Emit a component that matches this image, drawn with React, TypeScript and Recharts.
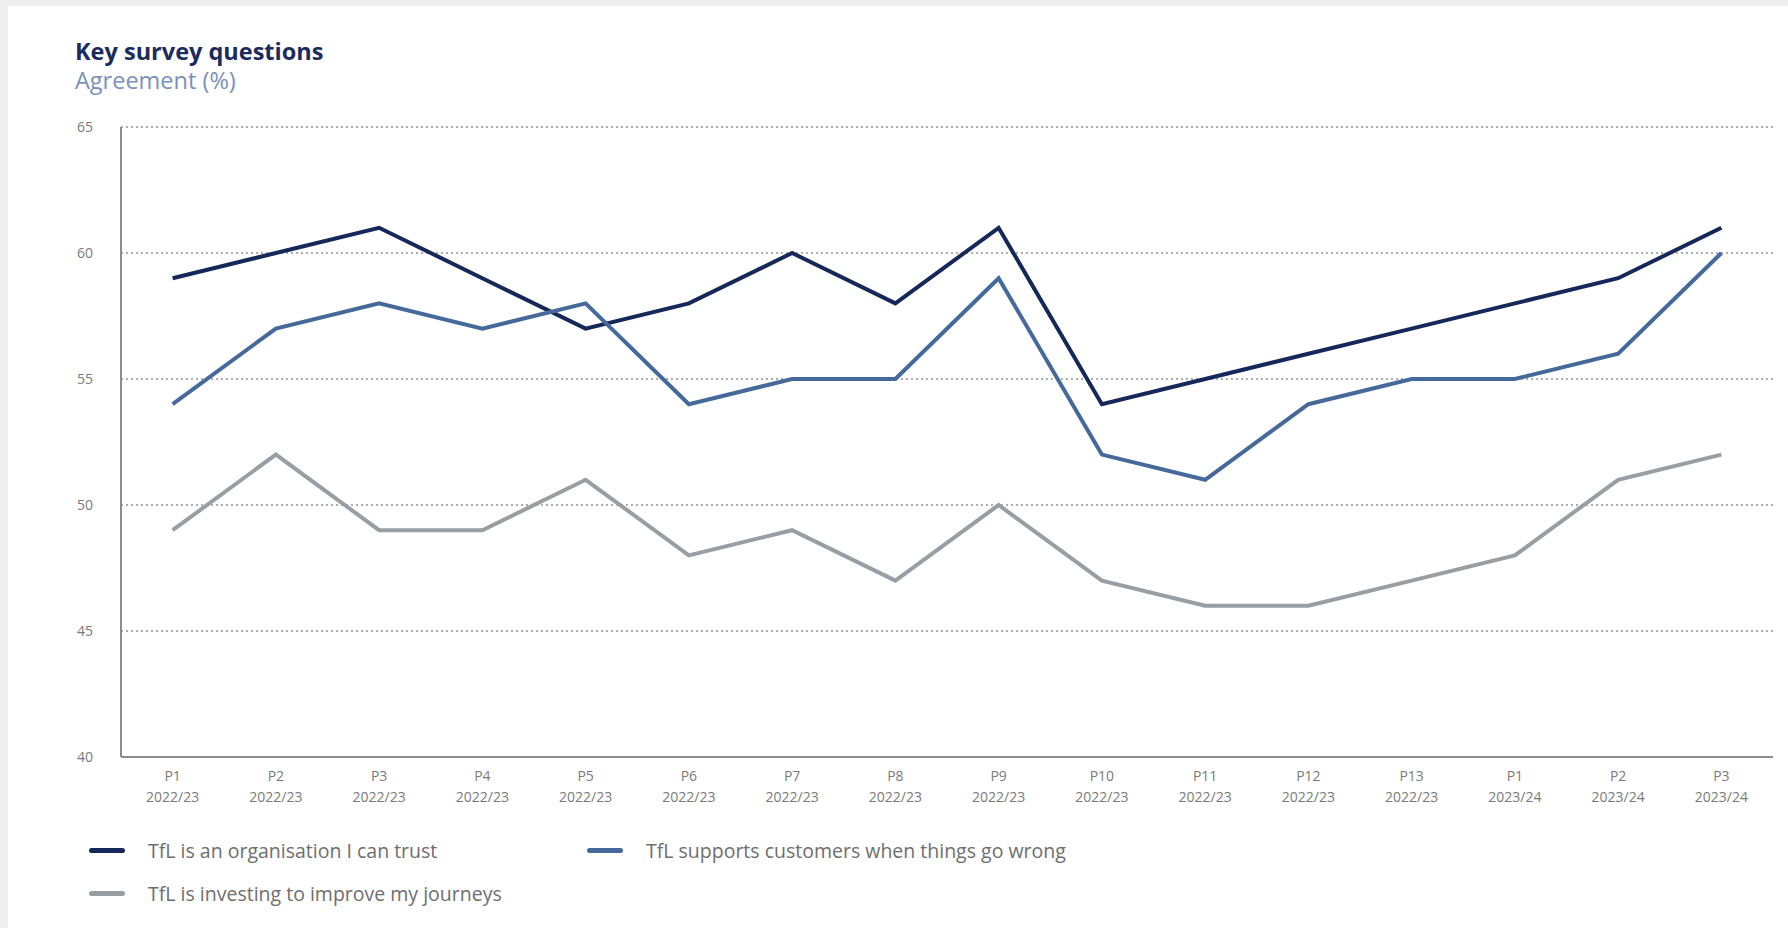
import React from "react";
import { LineChart, Line, XAxis, YAxis, CartesianGrid } from "recharts";

const PERIODS = ["P1", "P2", "P3", "P4", "P5", "P6", "P7", "P8", "P9", "P10", "P11", "P12", "P13", "P1", "P2", "P3"];
const YEARS = [
  "2022/23", "2022/23", "2022/23", "2022/23", "2022/23", "2022/23", "2022/23", "2022/23",
  "2022/23", "2022/23", "2022/23", "2022/23", "2022/23", "2023/24", "2023/24", "2023/24",
];
const TRUST = [59, 60, 61, 59, 57, 58, 60, 58, 61, 54, 55, 56, 57, 58, 59, 61];
const SUPPORTS = [54, 57, 58, 57, 58, 54, 55, 55, 59, 52, 51, 54, 55, 55, 56, 60];
const INVESTING = [49, 52, 49, 49, 51, 48, 49, 47, 50, 47, 46, 46, 47, 48, 51, 52];
const Y_TICKS = [40, 45, 50, 55, 60, 65];

const SERIES = [
  { key: "trust", name: "TfL is an organisation I can trust", color: "#14295a" },
  { key: "supports", name: "TfL supports customers when things go wrong", color: "#46699c" },
  { key: "investing", name: "TfL is investing to improve my journeys", color: "#979fa5" },
];

const data = PERIODS.map((p, i) => ({
  id: i,
  period: p,
  year: YEARS[i],
  trust: TRUST[i],
  supports: SUPPORTS[i],
  investing: INVESTING[i],
}));

const FONT = "'Open Sans', sans-serif";

function PeriodTick(props: any) {
  const { x, y, payload } = props;
  const row = data[payload.value];
  return (
    <text x={x} y={y} textAnchor="middle" fill="#7a7a7a" fontSize={14} fontFamily={FONT}>
      <tspan x={x} dy={16}>{row.period}</tspan>
      <tspan x={x} dy={21}>{row.year}</tspan>
    </text>
  );
}

function LegendBox() {
  const item = (s: (typeof SERIES)[number], left: number, top: number) => (
    <div key={s.key} style={{ position: "absolute", left, top, display: "flex", alignItems: "center", height: 24 }}>
      <div style={{ width: 36, height: 5, borderRadius: 3, background: s.color, marginRight: 23 }} />
      <span style={{ fontSize: 19.5, color: "#6e6e6e", fontFamily: FONT, whiteSpace: "nowrap" }}>{s.name}</span>
    </div>
  );
  return (
    <div style={{ position: "absolute", left: 89, top: 838, width: 1100, height: 80 }}>
      {item(SERIES[0], 0, 0)}
      {item(SERIES[1], 498, 0)}
      {item(SERIES[2], 0, 43)}
    </div>
  );
}

export default function App() {
  return (
    <div style={{ position: "fixed", left: 0, top: 0, width: 1788, height: 928, background: "#efefef" }}>
      <div style={{ position: "absolute", left: 8, top: 6, width: 1780, height: 922, background: "#fff" }} />
      <div style={{ position: "absolute", left: 75, top: 37, fontFamily: FONT }}>
        <div style={{ fontSize: 23.5, fontWeight: 700, color: "#1c2b5e", lineHeight: "29px" }}>Key survey questions</div>
        <div style={{ fontSize: 23.5, color: "#7b90bd", lineHeight: "29px" }}>Agreement (%)</div>
      </div>
      <div style={{ position: "absolute", left: 0, top: 0 }}>
        <LineChart width={1788} height={928} data={data} margin={{ top: 127, right: 15, bottom: 121, left: 0 }}>
          <CartesianGrid horizontal vertical={false} stroke="#adadad" strokeWidth={2} strokeDasharray="2 3" />
          <XAxis
            dataKey="id"
            type="category"
            padding={{ left: 51.6, right: 51.6 }}
            tick={<PeriodTick />}
            tickLine={false}
            axisLine={{ stroke: "#8c8c8c", strokeWidth: 2 }}
            height={50}
            interval={0}
          />
          <YAxis
            domain={[40, 65]}
            ticks={Y_TICKS}
            width={121}
            tickLine={false}
            axisLine={{ stroke: "#8c8c8c", strokeWidth: 2 }}
            tick={{ fill: "#7a7a7a", fontSize: 14, fontFamily: FONT }}
            tickMargin={22}
          />
          {SERIES.map((s) => (
            <Line
              key={s.key}
              dataKey={s.key}
              name={s.name}
              stroke={s.color}
              strokeWidth={4}
              dot={false}
              activeDot={false}
              isAnimationActive={false}
              strokeLinejoin="miter"
            />
          ))}
        </LineChart>
      </div>
      <LegendBox />
    </div>
  );
}
